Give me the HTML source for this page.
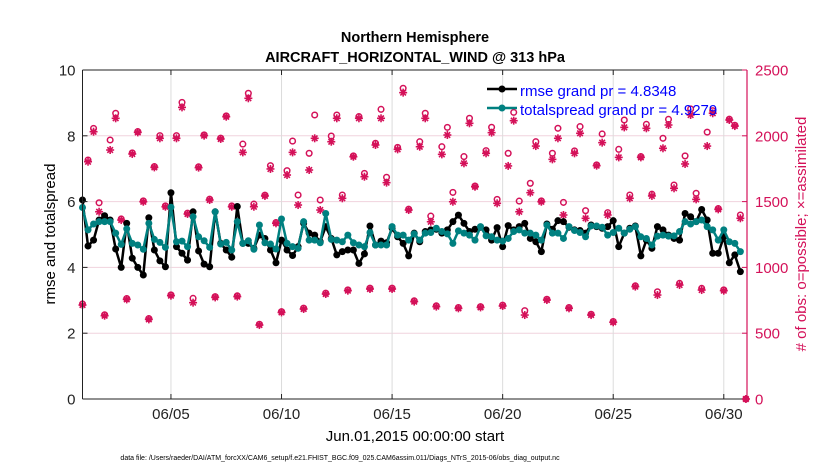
<!DOCTYPE html>
<html><head><meta charset="utf-8"><style>
body{margin:0;background:#fff;}
svg{display:block;font-family:"Liberation Sans",sans-serif;}
</style></head><body>
<svg id="chart" width="830" height="470" viewBox="0 0 830 470">
<g id="grid"></g>
<g id="obs"></g>
<g id="lines"></g>
<g id="axes"></g>
<text x="415" y="42" text-anchor="middle" font-size="14.5" font-weight="bold">Northern Hemisphere</text>
<text x="415" y="62" text-anchor="middle" font-size="14.5" font-weight="bold">AIRCRAFT_HORIZONTAL_WIND @ 313 hPa</text>
<text transform="translate(55,234) rotate(-90)" text-anchor="middle" font-size="15">rmse and totalspread</text>
<text transform="translate(806,234) rotate(-90)" text-anchor="middle" font-size="15" fill="#d41159"># of obs: o=possible; ×=assimilated</text>
<text x="415" y="441" text-anchor="middle" font-size="15">Jun.01,2015 00:00:00 start</text>
<text x="340" y="460" text-anchor="middle" font-size="7">data file: /Users/raeder/DAI/ATM_forcXX/CAM6_setup/f.e21.FHIST_BGC.f09_025.CAM6assim.011/Diags_NTrS_2015-06/obs_diag_output.nc</text>
<g id="legend">
<g>
<line x1="487" y1="89" x2="517" y2="89" stroke="#000" stroke-width="2.5"/><circle cx="502" cy="89" r="3.5" fill="#000"/>
<text x="520" y="96" font-size="15" fill="#0000ff">rmse grand pr = 4.8348</text></g>
<g>
<line x1="487" y1="108" x2="517" y2="108" stroke="#008080" stroke-width="2.5"/><circle cx="502" cy="108" r="3.5" fill="#008080"/>
<text x="520" y="115" font-size="15" fill="#0000ff">totalspread grand pr = 4.9279</text></g>
</g>
</svg>
<script>
const rmse=[6.05,4.65,4.83,5.44,5.57,5.44,4.56,4.0,5.34,4.28,4.0,3.77,5.51,4.53,4.2,4.02,6.27,4.63,4.43,4.22,5.69,4.5,4.1,4.02,5.69,4.73,4.53,4.31,5.85,4.73,
4.73,4.58,4.98,4.88,4.53,4.14,4.83,4.53,4.36,4.63,5.34,5.04,4.98,4.78,5.24,4.88,4.38,4.48,4.53,4.53,4.12,4.41,5.26,4.68,4.80,4.75,5.19,4.93,4.73,4.35,
5.04,4.78,5.09,5.14,5.16,5.04,5.14,5.39,5.59,5.34,5.09,5.16,5.22,5.14,4.83,5.21,4.63,5.27,5.14,5.24,5.34,4.88,4.78,4.48,5.32,5.16,5.42,5.39,5.22,5.14,
5.12,5.04,5.29,5.24,5.19,5.24,5.42,4.63,5.04,5.19,5.26,4.35,4.83,4.58,5.24,5.14,4.98,4.88,4.83,5.64,5.54,5.39,5.76,5.44,4.43,4.43,4.93,4.14,4.38,3.87];
const spread=[5.82,5.14,5.32,5.39,5.39,5.39,5.04,4.70,5.17,4.73,4.68,4.55,5.34,4.85,4.76,4.61,5.83,4.78,4.80,4.63,5.54,4.93,4.81,4.61,5.69,4.71,4.76,4.53,5.39,4.73,
4.81,4.55,5.29,4.75,4.71,4.56,5.47,4.73,4.63,4.58,5.39,4.83,4.83,4.75,5.64,4.85,4.83,4.78,4.98,4.75,4.68,4.63,5.06,4.68,4.68,4.68,5.24,4.98,4.98,4.83,
5.02,4.83,5.04,5.06,5.19,5.09,5.02,4.73,5.11,5.04,4.98,4.83,5.24,4.96,4.93,4.83,4.80,4.88,5.09,5.14,5.04,5.04,4.98,4.83,5.29,5.04,5.04,4.88,5.24,5.12,
5.06,4.93,5.26,5.26,5.22,4.98,5.06,5.19,5.04,5.16,5.24,4.93,4.88,4.68,4.95,4.98,4.95,4.96,5.09,5.39,5.32,5.39,5.44,5.24,5.14,4.83,5.14,4.78,4.73,4.48];
const assimilated=[714,1803,2031,1423,633,1892,2133,1360,757,1862,2026,1499,605,1760,1981,1461,785,1981,2216,1406,732,1758,2001,1512,772,1976,2145,1461,778,1874,
2285,1461,562,1543,1748,1335,658,1702,1874,1474,684,1740,1981,1436,798,1955,2133,1525,823,1841,2133,1689,836,1930,2133,1644,836,1897,2328,1436,
740,1917,2133,1347,702,1859,2006,1499,689,1791,2095,1613,696,1867,2024,1487,707,1771,2115,1423,638,1568,1922,1499,752,1821,1981,1398,689,1867,
2019,1373,638,1773,1948,1398,583,1836,2064,1525,854,1836,2057,1543,790,1905,2082,1601,866,1786,2158,1517,828,1922,2171,1441,823,2120,2074,1373,0];
const possible=[722,1816,2056,1491,640,1968,2171,1368,763,1870,2032,1505,611,1766,2001,1467,791,2001,2254,1412,765,1764,2007,1518,778,1982,2151,1467,784,1937,
2323,1481,568,1549,1773,1341,664,1735,1960,1550,690,1867,2158,1512,804,1998,2158,1550,829,1847,2146,1714,842,1943,2201,1685,842,1912,2361,1442,
746,1955,2171,1390,708,1917,2064,1570,695,1842,2133,1618,702,1887,2065,1517,713,1867,2178,1504,671,1639,1955,1505,758,1867,2057,1494,695,1885,
2070,1431,644,1779,2014,1416,589,1897,2120,1550,860,1842,2087,1556,815,1981,2125,1626,879,1847,2204,1563,841,2028,2191,1447,829,2126,2080,1398,0];
const xTickDays=[4,9,14,19,24,29];
const xTickLabels=["06/05","06/10","06/15","06/20","06/25","06/30"];
const yLeftTicks=[0,2,4,6,8,10];
const yRightTicks=[0,500,1000,1500,2000,2500];
const stepDays=0.25;

const NS="http://www.w3.org/2000/svg";
const L=82.5,R=747,T=70,B=399,XMAX=30.05;
const xs=t=>L+t/XMAX*(R-L);
const yl=v=>B-v/10*(B-T);
const yr=c=>B-c/2500*(B-T);
const PINK="#d41159",TEAL="#008080";
function mk(tag,attrs,parent){const e=document.createElementNS(NS,tag);for(const k in attrs)e.setAttribute(k,attrs[k]);parent.appendChild(e);return e;}
const grid=document.getElementById('grid'),axes=document.getElementById('axes'),obs=document.getElementById('obs'),lines=document.getElementById('lines');
mk('rect',{x:L,y:T,width:R-L,height:B-T,fill:'#fff'},grid);
yLeftTicks.forEach(v=>{if(v>0&&v<10){const g=mk('line',{x1:L,x2:R,y1:yl(v),y2:yl(v),stroke:'#f0d3dd','stroke-width':1},grid);

}});
xTickDays.forEach(d=>{const g=mk('line',{x1:xs(d),x2:xs(d),y1:T,y2:B,stroke:'#dcdcdc','stroke-width':1},grid);

});
// obs markers
function star(cx,cy,s,par){const g=mk('g',{stroke:PINK,'stroke-width':1.6,fill:'none'},par);
mk('line',{x1:cx-s,y1:cy,x2:cx+s,y2:cy},g);mk('line',{x1:cx,y1:cy-s,x2:cx,y2:cy+s},g);
mk('line',{x1:cx-s*.7,y1:cy-s*.7,x2:cx+s*.7,y2:cy+s*.7},g);mk('line',{x1:cx-s*.7,y1:cy+s*.7,x2:cx+s*.7,y2:cy-s*.7},g);return g;}
possible.forEach((c,i)=>{const x=xs(i*stepDays);
const m=mk('circle',{cx:x,cy:yr(c),r:2.8,fill:'none',stroke:PINK,'stroke-width':1.5},obs);

});
assimilated.forEach((c,i)=>{const x=xs(i*stepDays);
const m=star(x,yr(c),4,obs);

});
function series(vals,color,name){
const pts=vals.map((v,i)=>xs(i*stepDays).toFixed(1)+','+yl(v).toFixed(1)).join(' ');
const p=mk('polyline',{points:pts,fill:'none',stroke:color,'stroke-width':2.5,'stroke-linejoin':'round'},lines);


vals.forEach((v,i)=>{const c=mk('circle',{cx:xs(i*stepDays),cy:yl(v),r:3.5,fill:color},lines);

});}
series(rmse,'#000','rmse');
series(spread,TEAL,'totalspread');
// axes
mk('line',{x1:L,y1:T,x2:R,y2:T,stroke:'#222','stroke-width':1},axes);
mk('line',{x1:L,y1:B,x2:R,y2:B,stroke:'#222','stroke-width':1},axes);
mk('line',{x1:L,y1:T,x2:L,y2:B,stroke:'#222','stroke-width':1},axes);
mk('line',{x1:R,y1:T,x2:R,y2:B,stroke:PINK,'stroke-width':1.2},axes);
yLeftTicks.forEach(v=>{mk('line',{x1:L,x2:L+5,y1:yl(v),y2:yl(v),stroke:'#222'},axes);
const t=mk('text',{x:L-7,y:yl(v)+5.5,'text-anchor':'end','font-size':15,fill:'#222'},axes);t.textContent=v;

});
yRightTicks.forEach(v=>{mk('line',{x1:R-5,x2:R,y1:yr(v),y2:yr(v),stroke:PINK},axes);
const t=mk('text',{x:R+8,y:yr(v)+5.5,'font-size':15,fill:PINK},axes);t.textContent=v;

});
xTickDays.forEach((d,i)=>{mk('line',{x1:xs(d),x2:xs(d),y1:B,y2:B-5,stroke:'#222'},axes);mk('line',{x1:xs(d),x2:xs(d),y1:T,y2:T+5,stroke:'#222'},axes);
const t=mk('text',{x:xs(d),y:B+20,'text-anchor':'middle','font-size':15,fill:'#222'},axes);t.textContent=xTickLabels[i];

});
</script>
</body></html>
